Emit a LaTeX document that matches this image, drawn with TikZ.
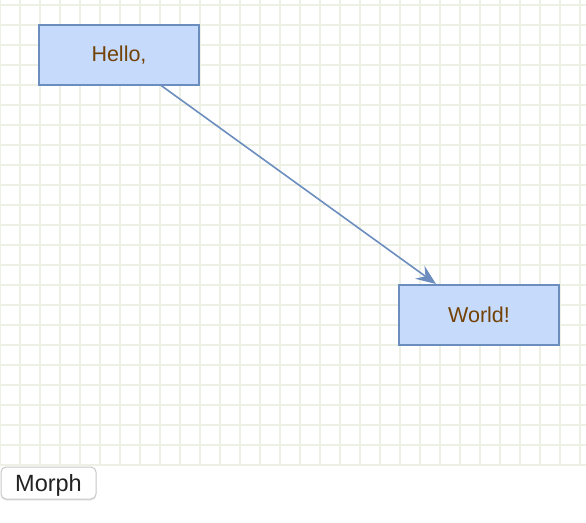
\documentclass[tikz,border=0pt]{standalone}
\usepackage{fontspec}
\setmainfont{Liberation Sans}
\usetikzlibrary{arrows.meta,shadows}
\definecolor{gridline}{RGB}{237,241,229}
\definecolor{boxfill}{RGB}{198,218,252}
\definecolor{boxline}{RGB}{108,142,191}
\definecolor{boxtext}{RGB}{115,66,5}
\definecolor{btnline}{RGB}{200,200,200}
\definecolor{btntext}{RGB}{34,34,34}
\tikzset{
  shape box/.style={draw=boxline, line width=1.5pt, fill=boxfill,
    minimum width=160pt, minimum height=60pt, inner sep=0pt,
    text=boxtext, font=\fontsize{21.5pt}{24pt}\selectfont},
  link/.style={draw=boxline, line width=1.6pt,
    -{Stealth[length=20pt, width=16pt, inset=7pt]}, shorten >=0.5pt},
  button/.style={draw=btnline, line width=1pt, fill=white, rounded corners=5pt,
    minimum width=95pt, minimum height=32pt, inner sep=0pt,
    text height=16pt, text depth=0pt,
    text=btntext, font=\fontsize{23.5pt}{26pt}\selectfont,
    drop shadow={shadow xshift=0pt, shadow yshift=-1.5pt, opacity=0.18}}
}
\begin{document}
\begin{tikzpicture}[x=1pt, y=-1pt]
  \useasboundingbox (0,0) rectangle (586,522);
  \fill[white] (0,0) rectangle (586,522);
  % background grid
  \begin{scope}
    \clip (0,0) rectangle (586,466);
    \foreach \gx in {-0.5,19.5,...,590} \draw[gridline, line width=2pt] (\gx,0) -- (\gx,466);
    \foreach \gy in {4.5,24.5,...,470} \draw[gridline, line width=2pt] (0,\gy) -- (586,\gy);
  \end{scope}
  % diagram
  \node[shape box] (hello) at (119,55) {Hello,};
  \node[shape box] (world) at (479,315) {World!};
  \draw[link] (hello) -- (world);
  % control below the canvas
  \node[button] (morph) at (48.5,483) {Morph};
\end{tikzpicture}
\end{document}
